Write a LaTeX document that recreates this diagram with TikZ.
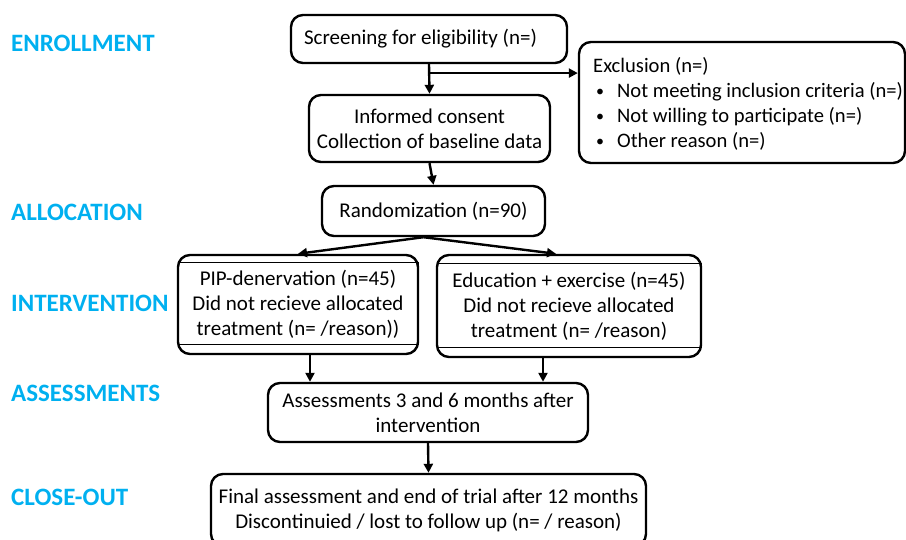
\documentclass[tikz,border=0pt]{standalone}
\usepackage{fontspec}
\setmainfont{Carlito}
\usetikzlibrary{arrows.meta,calc}
\definecolor{lbl}{RGB}{0,176,240}
\newcommand{\smbul}{\hspace*{3pt}\raisebox{1pt}{\fontsize{16}{16}\selectfont •}\hspace{13pt}}
\begin{document}
\begin{tikzpicture}[x=1pt,y=-1pt,
  box/.style={draw,line width=2.4pt,rounded corners=12pt,align=center,inner sep=0pt,font=\fontsize{21}{25}\selectfont},
  phase/.style={anchor=west,text=lbl,font=\fontsize{25}{28}\selectfont\bfseries,inner sep=0pt},
  arr/.style={line width=2.4pt,-{Triangle[length=9pt,width=9pt]}},
  thinbox/.style={line width=0.6pt}]
\useasboundingbox (0,0) rectangle (906,540);
% phase labels
\node[phase] (l1) at (11,43) {ENROLLMENT};
\node[phase] (l2) at (11,212) {ALLOCATION};
\node[phase] (l3) at (11,303) {INTERVENTION};
\node[phase] (l4) at (11,393) {ASSESSMENTS};
\node[phase] (l5) at (11,497) {CLOSE-OUT};
% thin rectangles behind intervention boxes
\draw[thinbox] (178,262) rectangle (418,344);
\draw[thinbox] (437,263) rectangle (701,347);
% boxes
\node[box,minimum width=276pt,minimum height=48pt] (scr) at (429,39) {Screening for eligibility (n=)\hspace*{17pt}};
\node[box,minimum width=326pt,minimum height=121pt] (exc) at (742,102.5) {};
\node[anchor=west,align=left,inner sep=0pt,font=\fontsize{20.6}{25}\selectfont] (exct) at (593,103.5)
 {Exclusion (n=)\\
  \smbul Not meeting inclusion criteria (n=)\\
  \smbul Not willing to participate (n=)\\
  \smbul Other reason (n=)};
\node[box,minimum width=241pt,minimum height=67pt] (cons) at (429.5,128.5) {Informed consent\\Collection of baseline data};
\node[box,minimum width=223pt,minimum height=50pt] (rand) at (433.5,211) {Randomization (n=90)};
\node[box,minimum width=240pt,minimum height=99pt] (pip) at (298,304.5) {PIP-denervation (n=45)\\Did not recieve allocated\\treatment (n= /reason))};
\node[box,minimum width=264pt,minimum height=102pt] (edu) at (569,306) {Education + exercise (n=45)\\Did not recieve allocated\\treatment (n= /reason)};
\node[box,minimum width=320pt,minimum height=59pt] (ass) at (428,412.5) {Assessments 3 and 6 months after\\intervention};
\node[box,minimum width=435pt,minimum height=72pt] (fin) at (428.5,510) {Final assessment and end of trial after 12 months\\Discontinuied / lost to follow up (n= / reason)};
% connectors
\coordinate (br) at ($(scr.south)!0.3!(cons.north)$);
\draw[arr] (scr.south) -- (cons.north);
\draw[arr] (br) -- (br -| exc.west);
\draw[arr] (cons.south) -- (rand.north);
\coordinate (rs) at ($(rand.south)+(-10,0)$);
\draw[arr] (rs) -- (pip.north);
\draw[arr] (rs) -- ($(edu.north)+(-13,0)$);
\coordinate (ps) at ($(pip.south)+(12,0)$);
\draw[arr] (ps) -- (ps |- ass.north);
\coordinate (es) at ($(edu.south)+(-26,0)$);
\draw[arr] (es) -- (es |- ass.north);
\draw[arr] (ass.south) -- (fin.north);
\end{tikzpicture}
\end{document}
